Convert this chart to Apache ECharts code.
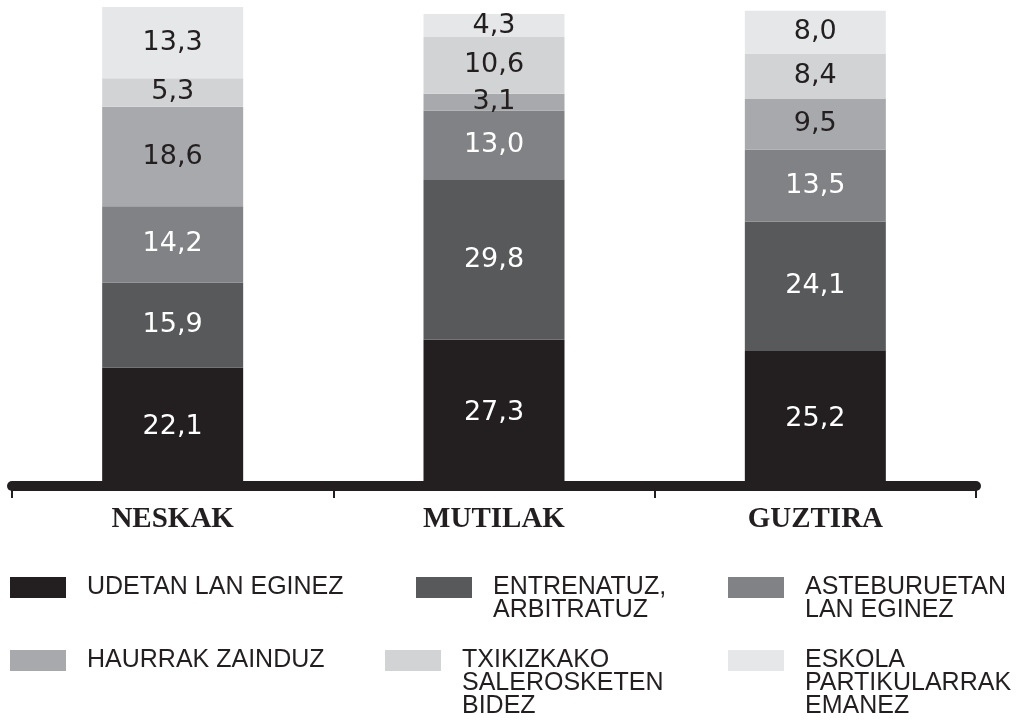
<!DOCTYPE html>
<html><head><meta charset="utf-8">
<script src="https://cdn.jsdelivr.net/npm/echarts@6/dist/echarts.min.js"></script>
<style>html,body{margin:0;padding:0;background:#fff}#c{width:1023px;height:728px}</style>
</head><body><div id="c"></div>
<script>
const categories = ['NESKAK', 'MUTILAK', 'GUZTIRA'];
const seriesNames = [
  'UDETAN LAN EGINEZ',
  'ENTRENATUZ,\nARBITRATUZ',
  'ASTEBURUETAN\nLAN EGINEZ',
  'HAURRAK ZAINDUZ',
  'TXIKIZKAKO\nSALEROSKETEN\nBIDEZ',
  'ESKOLA\nPARTIKULARRAK\nEMANEZ'
];
const udetan = [22.1, 27.3, 25.2];
const entrenatuz = [15.9, 29.8, 24.1];
const asteburuetan = [14.2, 13.0, 13.5];
const haurrak = [18.6, 3.1, 9.5];
const txikizkako = [5.3, 10.6, 8.4];
const eskola = [13.3, 4.3, 8.0];

const seriesData = [udetan, entrenatuz, asteburuetan, haurrak, txikizkako, eskola];
const colors = ['#231f20', '#58595b', '#808285', '#a7a9ac', '#d1d3d4', '#e6e7e8'];
const labelColors = ['#ffffff', '#ffffff', '#ffffff', '#231f20', '#231f20', '#231f20'];
const legendPos = [[10, 576], [416, 576], [728, 576], [10, 649], [385, 649], [728, 649]];
const LH = 23;

const chart = echarts.init(document.getElementById('c'));
chart.setOption({
  animation: false,
  backgroundColor: '#ffffff',
  grid: { left: 12, right: 47, top: 7, bottom: 242, containLabel: false },
  xAxis: {
    type: 'category',
    data: categories,
    axisLine: { lineStyle: { color: '#231f20', width: 10 } },
    axisTick: { show: true, length: 12, lineStyle: { color: '#231f20', width: 2 } },
    axisLabel: { margin: 19, fontFamily: 'Liberation Serif', fontWeight: 'bold', fontSize: 29, color: '#231f20' }
  },
  yAxis: { type: 'value', min: 0, max: 89.4, show: false },
  legend: seriesNames.map((n, i) => {
    const extra = n.split('\n').length - 1;
    return {
      data: [n],
      left: legendPos[i][0],
      top: legendPos[i][1] - 1 - extra * LH,
      padding: 0,
      icon: 'rect',
      itemWidth: 56,
      itemHeight: 21,
      selectedMode: false,
      formatter: name => ' \n'.repeat(extra) + name,
      textStyle: {
        fontFamily: 'Liberation Sans',
        fontSize: 25,
        color: '#231f20',
        lineHeight: LH,
        padding: [0, 0, 0, 16]
      }
    };
  }),
  series: seriesData.map((d, i) => ({
    name: seriesNames[i],
    type: 'bar',
    stack: 'total',
    data: d,
    barWidth: 141,
    itemStyle: { color: colors[i] },
    label: {
      show: true,
      position: 'inside',
      fontFamily: 'DejaVu Sans',
      fontSize: 27,
      color: labelColors[i],
      formatter: p => p.value.toFixed(1).replace('.', ',')
    }
  }))
});
</script>
</body></html>
